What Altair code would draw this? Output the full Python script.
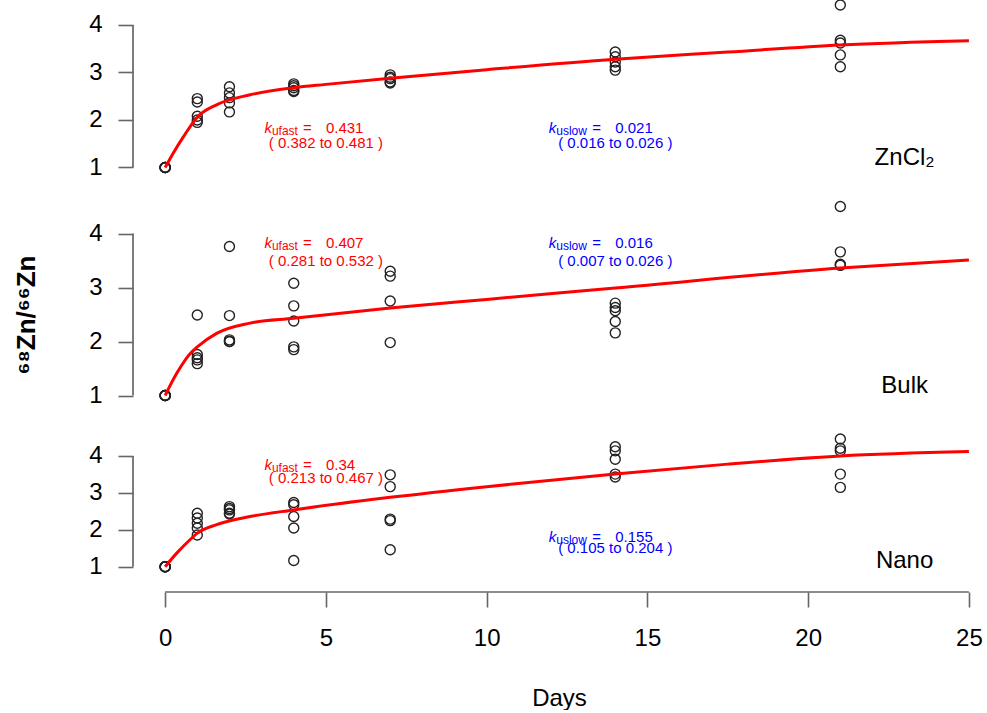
import altair as alt
import pandas as pd

FONT = "Liberation Sans"
AXC = "#666666"

# ---------------- data ----------------
obs_days = [0, 1, 2, 4, 7, 14, 21]

zncl2_obs = [
    [1, 1, 1, 1, 1],
    [2.45, 2.38, 2.08, 2.00, 1.95],
    [2.70, 2.57, 2.47, 2.36, 2.17],
    [2.76, 2.72, 2.68, 2.62, 2.60],
    [2.95, 2.90, 2.87, 2.80, 2.78],
    [3.43, 3.33, 3.22, 3.12, 3.05],
    [4.42, 3.68, 3.62, 3.37, 3.12],
]
bulk_obs = [
    [1, 1, 1, 1, 1],
    [2.49, 1.76, 1.70, 1.66, 1.59],
    [3.76, 2.48, 2.03, 2.00, 2.00],
    [3.08, 2.66, 2.38, 1.90, 1.85],
    [3.30, 3.21, 2.75, 1.98],
    [2.71, 2.63, 2.57, 2.37, 2.16],
    [4.50, 3.66, 3.43, 3.41],
]
nano_obs = [
    [1, 1, 1, 1, 1],
    [2.45, 2.32, 2.18, 2.05, 1.86],
    [2.63, 2.58, 2.54, 2.45, 2.43],
    [2.74, 2.68, 2.36, 2.05, 1.17],
    [3.49, 3.17, 2.29, 2.25, 1.46],
    [4.25, 4.14, 3.91, 3.51, 3.43],
    [4.46, 4.21, 4.14, 3.51, 3.15],
]

zncl2_fit_t = [0, 0.25, 0.57, 1.0, 1.6, 2.64, 4, 5, 7, 10, 14, 17.5, 21, 25]
zncl2_fit_v = [1.0, 1.30, 1.65, 2.06, 2.32, 2.53, 2.68, 2.75, 2.88, 3.06, 3.28, 3.43, 3.58, 3.67]
bulk_fit_t = [0, 0.36, 0.83, 1.0, 1.6, 2.64, 4, 7, 10, 14, 21, 25]
bulk_fit_v = [1.0, 1.41, 1.81, 1.90, 2.15, 2.34, 2.43, 2.62, 2.78, 2.99, 3.36, 3.51]
nano_fit_t = [0, 0.36, 0.83, 1.0, 1.6, 2.64, 4, 7, 10, 14, 17.5, 21, 25]
nano_fit_v = [1.0, 1.37, 1.78, 1.91, 2.14, 2.36, 2.54, 2.88, 3.17, 3.51, 3.78, 4.00, 4.12]

samples = ["ZnCl₂", "Bulk", "Nano"]
k_fast = ["0.431", "0.407", "0.34"]
k_fast_ci = ["( 0.382 to 0.481 )", "( 0.281 to 0.532 )", "( 0.213 to 0.467 )"]
k_slow = ["0.021", "0.016", "0.155"]
k_slow_ci = ["( 0.016 to 0.026 )", "( 0.007 to 0.026 )", "( 0.105 to 0.204 )"]

x_ticks = [0, 5, 10, 15, 20, 25]
y_ticks = [1, 2, 3, 4]
x_title = "Days"
y_title = "⁶⁸Zn/⁶⁶Zn"

# ---------------- layout (positions, not data) ----------------
X_DOMAIN = [-1, 25.5]
PLOT_W = 852
LAYOUT = [
    dict(dom=[0.5263, 4.5263], h=190, label=(23, 1.20), fast=(5, 1.83, 1.52), slow=(14, 1.83, 1.52)),
    dict(dom=[0.7315, 4.713], h=215, label=(23, 1.18), fast=(5, 3.82, 3.49), slow=(14, 3.82, 3.49)),
    dict(dom=[0.3176, 5.110], h=177, label=(23, 1.16), fast=(5, 3.76, 3.40), slow=(14, 1.81, 1.51)),
]


def points_df(obs):
    rows = []
    for d, vals in zip(obs_days, obs):
        for v in vals:
            rows.append({"day": d, "ratio": v})
    return pd.DataFrame(rows)


def panel(i, obs, ft, fv, bottom):
    lay = LAYOUT[i]
    h = lay["h"]
    xs = alt.Scale(domain=X_DOMAIN, nice=False, zero=False)
    ys = alt.Scale(domain=lay["dom"], nice=False, zero=False)
    if bottom:
        xaxis = alt.Axis(values=x_ticks, title=x_title, grid=False, domain=False, tickSize=15,
                         tickColor=AXC, tickWidth=1.6, labelFont=FONT, labelFontSize=24,
                         labelColor="black", labelPadding=19, labelFlush=False, labelOverlap=False,
                         titleFont=FONT, titleFontSize=24, titleFontWeight="normal", titleColor="black",
                         titleY=113, titleBaseline="alphabetic")
    else:
        xaxis = None
    yaxis = alt.Axis(values=y_ticks, title=None, grid=False, domain=False, tickSize=15,
                     tickColor=AXC, tickWidth=1.6, labelFont=FONT, labelFontSize=24,
                     labelColor="black", labelPadding=16, labelFlush=False, labelOverlap=False)

    def X(f):
        return alt.X(f, scale=xs, axis=xaxis)

    def Y(f):
        return alt.Y(f, scale=ys, axis=yaxis)

    pts = alt.Chart(points_df(obs)).mark_point(
        shape="circle", filled=False, size=100, strokeWidth=1.4, color="#222222", opacity=1
    ).encode(x=X("day:Q"), y=Y("ratio:Q"))

    curve = alt.Chart(pd.DataFrame({"t": ft, "v": fv})).mark_line(
        color="#ff0000", strokeWidth=3, interpolate="monotone"
    ).encode(x=X("t:Q"), y=Y("v:Q"))

    yline = alt.Chart(pd.DataFrame({"a": [min(y_ticks)], "b": [max(y_ticks)]})).mark_rule(
        color=AXC, strokeWidth=1.7
    ).encode(x=alt.value(0), y=Y("a:Q"), y2="b:Q")

    lx, ly = lay["label"]
    lab = alt.Chart(pd.DataFrame({"x": [lx], "y": [ly], "s": [samples[i]]})).mark_text(
        font=FONT, fontSize=24, color="black", align="center", baseline="middle"
    ).encode(x=X("x:Q"), y=Y("y:Q"), text="s:N")

    def ann(pos, sub, val, ci, color, kdx):
        x, y1, y2 = pos
        df = pd.DataFrame({"x": [x], "y1": [y1], "y2": [y2], "sub": [sub], "val": [val], "ci": [ci]})
        base = alt.Chart(df)
        com = dict(font=FONT, color=color, baseline="middle")
        k = base.mark_text(text="k", fontSize=15, fontStyle="italic", align="right", dx=kdx, **com).encode(
            x=X("x:Q"), y=Y("y1:Q"))
        s = base.mark_text(fontSize=12, align="left", dx=kdx, dy=3, **com).encode(
            x=X("x:Q"), y=Y("y1:Q"), text="sub:N")
        eq = base.mark_text(text="=", fontSize=15, align="left", dx=-23, **com).encode(
            x=X("x:Q"), y=Y("y1:Q"))
        v = base.mark_text(fontSize=15, align="left", dx=0, **com).encode(
            x=X("x:Q"), y=Y("y1:Q"), text="val:N")
        c = base.mark_text(fontSize=15, align="center", **com).encode(
            x=X("x:Q"), y=Y("y2:Q"), text="ci:N")
        return [k, s, eq, v, c]

    layers = [pts, yline, curve, lab]
    layers += ann(lay["fast"], "ufast", k_fast[i], k_fast_ci[i], "#ff0000", -54)
    layers += ann(lay["slow"], "uslow", k_slow[i], k_slow_ci[i], "#0000ff", -59)

    one = pd.DataFrame({"a": [0]})
    if bottom:
        xline = alt.Chart(pd.DataFrame({"a": [min(x_ticks)], "b": [max(x_ticks)]})).mark_rule(
            color=AXC, strokeWidth=1.7
        ).encode(x=X("a:Q"), x2="b:Q", y=alt.value(h))
        layers.append(xline)
    if i == 0:
        anchor = alt.Chart(one).mark_rule(opacity=0).encode(
            x=alt.value(-133), y=alt.value(0), y2=alt.value(1))
        layers.append(anchor)
    if i == 1:
        yt = alt.Chart(one).mark_text(
            text=y_title, font=FONT, fontSize=26, fontWeight="bold", angle=270,
            align="center", baseline="middle", color="black"
        ).encode(x=alt.value(27 - 133), y=alt.value(315 - 195))
        layers.append(yt)

    return alt.layer(*layers).properties(width=PLOT_W, height=h)


p1 = panel(0, zncl2_obs, zncl2_fit_t, zncl2_fit_v, False)
p2 = panel(1, bulk_obs, bulk_fit_t, bulk_fit_v, False)
p3 = panel(2, nano_obs, nano_fit_t, nano_fit_v, True)

chart = alt.VConcatChart(
    vconcat=[p1, p2, p3], spacing=5, bounds="flush",
    padding={"top": -3, "left": 0, "right": 0, "bottom": 0}, background="white"
).configure_view(stroke=None)

chart.save("out.html", embed_options={"renderer": "svg", "actions": False})
